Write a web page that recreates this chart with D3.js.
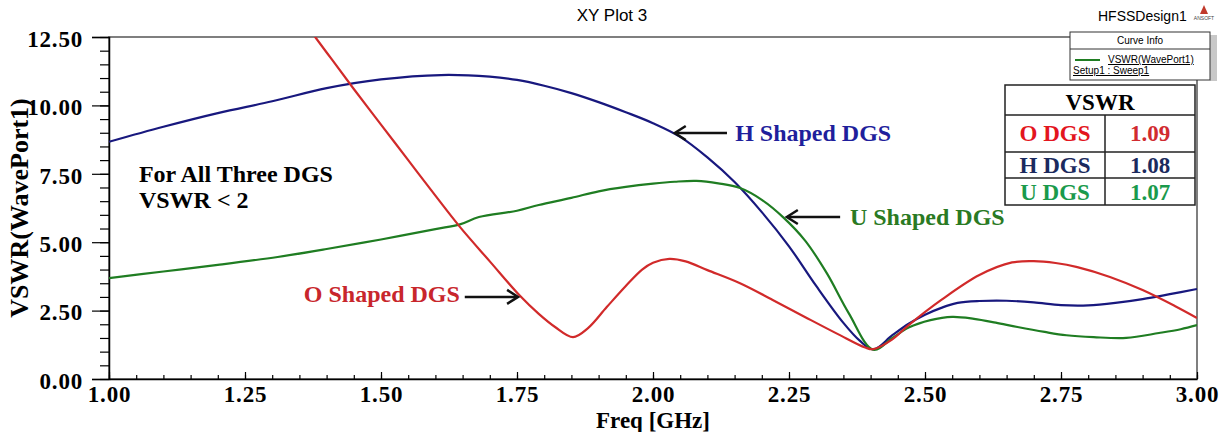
<!DOCTYPE html>
<html lang="en">
<head>
<meta charset="utf-8">
<title>XY Plot 3</title>
<script src="https://d3js.org/d3.v7.min.js"></script>
<style>
  body { margin: 0; background: #fff; }
  svg { display: block; }
</style>
</head>
<body>
<script>
// values: freq in GHz, VSWR(WavePort1)
var hFreq = [1.00,1.10,1.20,1.30,1.40,1.50,1.61,1.70,1.75,1.80,1.85,1.90,1.95,2.00,2.05,2.10,2.15,2.20,2.25,2.30,2.35,2.38,2.405,2.44,2.47,2.50,2.53,2.56,2.60,2.65,2.70,2.75,2.80,2.85,2.90,2.95,3.00];
var hVswr = [8.67,9.22,9.72,10.15,10.63,10.95,11.11,11.05,10.93,10.72,10.45,10.12,9.75,9.35,8.85,8.10,7.20,6.10,4.85,3.40,2.05,1.40,1.08,1.60,2.02,2.35,2.60,2.78,2.85,2.86,2.80,2.70,2.69,2.78,2.92,3.10,3.29];

var uFreq = [1.00,1.10,1.20,1.31,1.40,1.50,1.60,1.645,1.68,1.75,1.79,1.85,1.90,1.95,2.00,2.04,2.08,2.12,2.16,2.20,2.24,2.28,2.32,2.36,2.405,2.44,2.47,2.51,2.55,2.59,2.63,2.67,2.72,2.76,2.81,2.87,2.93,2.97,3.00];
var uVswr = [3.69,3.93,4.17,4.46,4.75,5.10,5.48,5.65,5.92,6.15,6.36,6.62,6.86,7.02,7.14,7.21,7.24,7.15,6.98,6.55,5.90,5.05,3.85,2.40,1.07,1.50,1.88,2.15,2.27,2.20,2.06,1.90,1.72,1.60,1.53,1.50,1.68,1.82,1.97];

var oFreq = [1.37,1.379,1.41,1.45,1.50,1.55,1.60,1.645,1.70,1.755,1.79,1.82,1.853,1.88,1.915,1.95,1.98,2.00,2.03,2.06,2.10,2.16,2.22,2.28,2.34,2.39,2.405,2.44,2.47,2.53,2.60,2.66,2.70,2.74,2.78,2.84,2.90,2.96,3.00];
var oVswr = [12.75,12.5,11.67,10.6,9.3,8.0,6.7,5.56,4.30,3.05,2.38,1.90,1.53,1.85,2.63,3.40,4.00,4.25,4.39,4.30,3.98,3.50,2.89,2.26,1.64,1.15,1.09,1.45,1.97,2.89,3.80,4.26,4.31,4.24,4.09,3.73,3.25,2.66,2.23];

var yTicks = [0, 2.5, 5, 7.5, 10, 12.5];
var xTicks = [1, 1.25, 1.5, 1.75, 2, 2.25, 2.5, 2.75, 3];

var tableNames = ["O DGS", "H DGS", "U DGS"];
var tableValues = ["1.09", "1.08", "1.07"];

var W = 1231, H = 432;
var x = d3.scaleLinear().domain([1, 3]).range([109, 1197]);
var y = d3.scaleLinear().domain([0, 12.5]).range([379, 37]);

var serif = "'Liberation Serif', 'Times New Roman', serif";
var sans = "'Liberation Sans', Arial, sans-serif";

var svg = d3.select("body").append("svg")
  .attr("width", W)
  .attr("height", H);

// title + design name
svg.append("text")
  .attr("x", 612).attr("y", 21)
  .attr("text-anchor", "middle")
  .style("font-family", sans).style("font-size", "17px")
  .text("XY Plot 3");

svg.append("text")
  .attr("x", 1098).attr("y", 21)
  .style("font-family", sans).style("font-size", "14px")
  .text("HFSSDesign1");

// little ansoft logo
svg.append("path")
  .attr("d", "M1204,5 L1200,14 L1208,14 Z")
  .attr("fill", "#c0392b");
svg.append("text")
  .attr("x", 1204).attr("y", 20)
  .attr("text-anchor", "middle")
  .style("font-family", sans).style("font-size", "5px")
  .attr("fill", "#444")
  .text("ANSOFT");

// plot frame
svg.append("rect")
  .attr("x", x(1)).attr("y", y(12.5))
  .attr("width", x(3) - x(1)).attr("height", y(0) - y(12.5))
  .attr("fill", "none")
  .attr("stroke", "#555")
  .attr("stroke-width", 1.5);

// y axis
var yAxis = svg.append("g")
  .attr("transform", "translate(" + x(1) + ",0)")
  .call(d3.axisLeft(y).tickValues(yTicks).tickFormat(d3.format(".2f")).tickSize(17).tickPadding(9));
svg.append("g")
  .attr("transform", "translate(" + x(1) + ",0)")
  .call(d3.axisLeft(y).tickValues(d3.range(0, 12.51, 0.5)).tickFormat("").tickSize(9))
  .select(".domain").remove();

// x axis, ticks pointing up into the plot
var xAxis = svg.append("g")
  .attr("transform", "translate(0," + y(0) + ")")
  .call(d3.axisBottom(x).tickValues(xTicks).tickFormat(d3.format(".2f")).tickSizeInner(-7).tickSizeOuter(0).tickPadding(7));
svg.append("g")
  .attr("transform", "translate(0," + y(0) + ")")
  .call(d3.axisBottom(x).tickValues(d3.range(1, 3.001, 0.05)).tickFormat("").tickSizeInner(-4).tickSizeOuter(0))
  .select(".domain").remove();

svg.selectAll(".tick line").attr("stroke", "#000").attr("stroke-width", 1.2);
svg.selectAll(".domain").attr("stroke", "#000").attr("stroke-width", 1.5);
svg.selectAll(".tick text")
  .style("font-family", serif)
  .style("font-size", "23px")
  .style("font-weight", "bold")
  .style("letter-spacing", "0.8px")
  .attr("fill", "#000");
yAxis.selectAll(".tick text").attr("dy", "0.4em");

// axis titles
svg.append("text")
  .attr("transform", "translate(28," + y(6.25) + ") rotate(-90)")
  .attr("text-anchor", "middle")
  .style("font-family", serif).style("font-size", "26px").style("font-weight", "bold")
  .text("VSWR(WavePort1)");

svg.append("text")
  .attr("x", x(2)).attr("y", 428)
  .attr("text-anchor", "middle")
  .style("font-family", serif).style("font-size", "23px").style("font-weight", "bold")
  .text("Freq [GHz]");

// curves
svg.append("clipPath").attr("id", "plotclip")
  .append("rect")
  .attr("x", x(1)).attr("y", y(12.5))
  .attr("width", x(3) - x(1)).attr("height", y(0) - y(12.5));

var series = [
  { name: "H", freq: hFreq, vswr: hVswr, color: "#18187e" },
  { name: "U", freq: uFreq, vswr: uVswr, color: "#1f7d22" },
  { name: "O", freq: oFreq, vswr: oVswr, color: "#d12a2a" }
];

var line = d3.line()
  .x(function(d) { return x(d[0]); })
  .y(function(d) { return y(d[1]); })
  .curve(d3.curveCatmullRom.alpha(0.5));

svg.append("g").attr("clip-path", "url(#plotclip)")
  .selectAll("path")
  .data(series)
  .enter()
  .append("path")
  .attr("d", function(s) { return line(d3.zip(s.freq, s.vswr)); })
  .attr("fill", "none")
  .attr("stroke", function(s) { return s.color; })
  .attr("stroke-width", 2.2);

// annotations (placed in data units)
var notes = [
  { text: "H Shaped DGS", color: "#1f1f9c", tip: [2.040, 8.99], tail: 2.136, tx: 2.151, ty: 8.70, anchor: "start" },
  { text: "U Shaped DGS", color: "#2a7a23", tip: [2.246, 5.92], tail: 2.344, tx: 2.362, ty: 5.63, anchor: "start" },
  { text: "O Shaped DGS", color: "#c8262c", tip: [1.752, 3.00], tail: 1.654, tx: 1.645, ty: 2.81, anchor: "end" }
];

notes.forEach(function(n) {
  var tx = x(n.tip[0]), ty = y(n.tip[1]);
  var dir = x(n.tail) > tx ? 1 : -1;
  svg.append("line")
    .attr("x1", x(n.tail)).attr("y1", ty)
    .attr("x2", tx + dir * 2).attr("y2", ty)
    .attr("stroke", "#111").attr("stroke-width", 2.5);
  svg.append("path")
    .attr("d", "M" + (tx + dir * 11) + "," + (ty - 7) + " L" + tx + "," + ty + " L" + (tx + dir * 11) + "," + (ty + 7))
    .attr("fill", "none").attr("stroke", "#111").attr("stroke-width", 2.5);
  svg.append("text")
    .attr("x", x(n.tx)).attr("y", y(n.ty))
    .attr("text-anchor", n.anchor)
    .attr("fill", n.color)
    .style("font-family", serif).style("font-size", "24px").style("font-weight", "bold")
    .text(n.text);
});

svg.append("text")
  .attr("x", x(1.055)).attr("y", y(7.2))
  .style("font-family", serif).style("font-size", "24px").style("font-weight", "bold")
  .text("For All Three DGS");
svg.append("text")
  .attr("x", x(1.055)).attr("y", y(6.25))
  .style("font-family", serif).style("font-size", "24px").style("font-weight", "bold")
  .text("VSWR < 2");

// curve info box
var info = svg.append("g");
info.append("rect")
  .attr("x", 1210).attr("y", 35).attr("width", 7).attr("height", 46)
  .attr("fill", "#c8c8c8");
info.append("rect")
  .attr("x", 1070).attr("y", 32).attr("width", 140).attr("height", 48)
  .attr("fill", "#fff").attr("stroke", "#333").attr("stroke-width", 1);
info.append("line")
  .attr("x1", 1070).attr("x2", 1210).attr("y1", 49).attr("y2", 49)
  .attr("stroke", "#333");
info.append("text")
  .attr("x", 1140).attr("y", 44).attr("text-anchor", "middle")
  .style("font-family", sans).style("font-size", "10px")
  .text("Curve Info");
info.append("line")
  .attr("x1", 1075).attr("x2", 1100).attr("y1", 60).attr("y2", 60)
  .attr("stroke", "#1f7d22").attr("stroke-width", 2);
info.append("text")
  .attr("x", 1108).attr("y", 63)
  .style("font-family", sans).style("font-size", "10px")
  .style("text-decoration", "underline")
  .text("VSWR(WavePort1)");
info.append("text")
  .attr("x", 1073).attr("y", 74)
  .style("font-family", sans).style("font-size", "10px")
  .style("text-decoration", "underline")
  .text("Setup1 : Sweep1");

// VSWR table
var nameColors = ["#e3151e", "#1b2a5e", "#1a9a4c"];
var valueColors = ["#d12b30", "#1b2a5e", "#1a9a4c"];
var rowEdges = [115, 152, 178, 205];
var tbl = svg.append("g");
tbl.append("rect")
  .attr("x", 1005).attr("y", 85).attr("width", 190).attr("height", 120)
  .attr("fill", "#fff").attr("stroke", "#222").attr("stroke-width", 1.5);
tbl.selectAll("line.row")
  .data(rowEdges.slice(0, 3))
  .enter().append("line")
  .attr("x1", 1005).attr("x2", 1195)
  .attr("y1", function(d) { return d; }).attr("y2", function(d) { return d; })
  .attr("stroke", "#222").attr("stroke-width", 1.5);
tbl.append("line")
  .attr("x1", 1105).attr("x2", 1105).attr("y1", 115).attr("y2", 205)
  .attr("stroke", "#222").attr("stroke-width", 1.5);
tbl.append("text")
  .attr("x", 1100).attr("y", 110).attr("text-anchor", "middle")
  .style("font-family", serif).style("font-size", "23px").style("font-weight", "bold")
  .text("VSWR");
tableNames.forEach(function(nm, i) {
  var base = [141, 173, 200][i];
  tbl.append("text")
    .attr("x", 1055).attr("y", base).attr("text-anchor", "middle")
    .attr("fill", nameColors[i])
    .style("font-family", serif).style("font-size", "23px").style("font-weight", "bold")
    .text(nm);
  tbl.append("text")
    .attr("x", 1150).attr("y", base).attr("text-anchor", "middle")
    .attr("fill", valueColors[i])
    .style("font-family", serif).style("font-size", "23px").style("font-weight", "bold")
    .text(tableValues[i]);
});
</script>
</body>
</html>
